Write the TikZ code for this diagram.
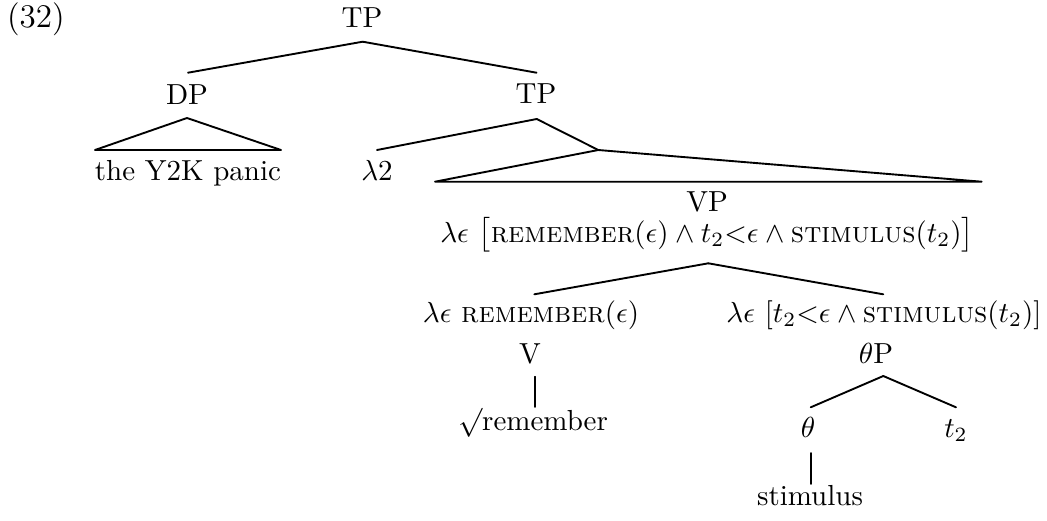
\documentclass[tikz,border=0pt]{standalone}
\usetikzlibrary{calc}
\begin{document}
\begin{tikzpicture}[x=0.3448pt,y=-0.3448pt,
  lbl/.style={inner sep=0pt, anchor=base},
  edge/.style={line width=0.65pt, line join=round, line cap=round}]
\useasboundingbox (0,0) rectangle (1047,520);
% labels
\node[lbl, anchor=base west] (ex) at (6.5,27) {\fontsize{11.4}{13}\selectfont (32)};
\node[lbl] (tp) at (362,27) {TP};
\node[lbl] (dp) at (187,104) {DP};
\node[lbl] (tpb) at (536,103) {TP};
\node[lbl] (panic) at (188,180) {the Y2K panic};
\node[lbl] (lam) at (377,180) {$\lambda2$};
\coordinate (roofA) at (598.3,150);
\node[lbl] (vp) at (707,211) {VP};
\node[lbl, text height=6.5pt, text depth=2.5pt] (fvp) at (707,242) {$\lambda\epsilon\ \bigl[\textsc{remember}(\epsilon)\wedge t_2{<}\epsilon\wedge\textsc{stimulus}(t_2)\bigr]$};
\node[lbl] (fv) at (531,322) {$\lambda\epsilon$ \textsc{remember}$(\epsilon)$};
\node[lbl] (fthp) at (884,322) {$\lambda\epsilon\ [t_2{<}\epsilon\wedge\textsc{stimulus}(t_2)]$};
\node[lbl] (v) at (530,363) {V};
\node[lbl] (thp) at (876,363) {$\theta$P};
\node[lbl] (root) at (533,430) {$\surd$remember};
\node[lbl] (th) at (808,437) {$\theta$};
\node[lbl] (tt) at (956,437) {$t_2$};
\node[lbl] (stim) at (810,505) {stimulus};
% edges
\draw[edge] ($(tp.base)+(0.7,14.7)$) -- ($(dp.base)+(1,-31.3)$);
\draw[edge] ($(tp.base)+(0.7,14.7)$) -- ($(tpb.base)+(0.5,-30.3)$);
\draw[edge] ($(dp.base)+(0,14)$) -- ($(panic.base)+(-93,-30)$) -- ($(panic.base)+(93,-30)$) -- cycle;
\draw[edge] ($(tpb.base)+(0.7,16)$) -- ($(lam.base)+(0,-30)$);
\draw[edge] ($(tpb.base)+(0.7,16)$) -- (roofA);
\draw[edge] (roofA) -- ($(vp.base)+(-272,-29.3)$) -- ($(vp.base)+(274.7,-29.3)$) -- cycle;
\draw[edge] ($(fvp.base)+(1.3,21.3)$) -- ($(fv.base)+(3.3,-27.7)$);
\draw[edge] ($(fvp.base)+(1.3,21.3)$) -- ($(fthp.base)+(-0.7,-27.7)$);
\draw[edge] ($(v.base)+(5,13.7)$) -- ($(root.base)+(2,-23)$);
\draw[edge] ($(thp.base)+(7.3,13)$) -- ($(th.base)+(2.7,-29.7)$);
\draw[edge] ($(thp.base)+(7.3,13)$) -- ($(tt.base)+(0,-29.7)$);
\draw[edge] ($(th.base)+(2.7,16)$) -- ($(stim.base)+(0.7,-21)$);
\end{tikzpicture}
\end{document}
